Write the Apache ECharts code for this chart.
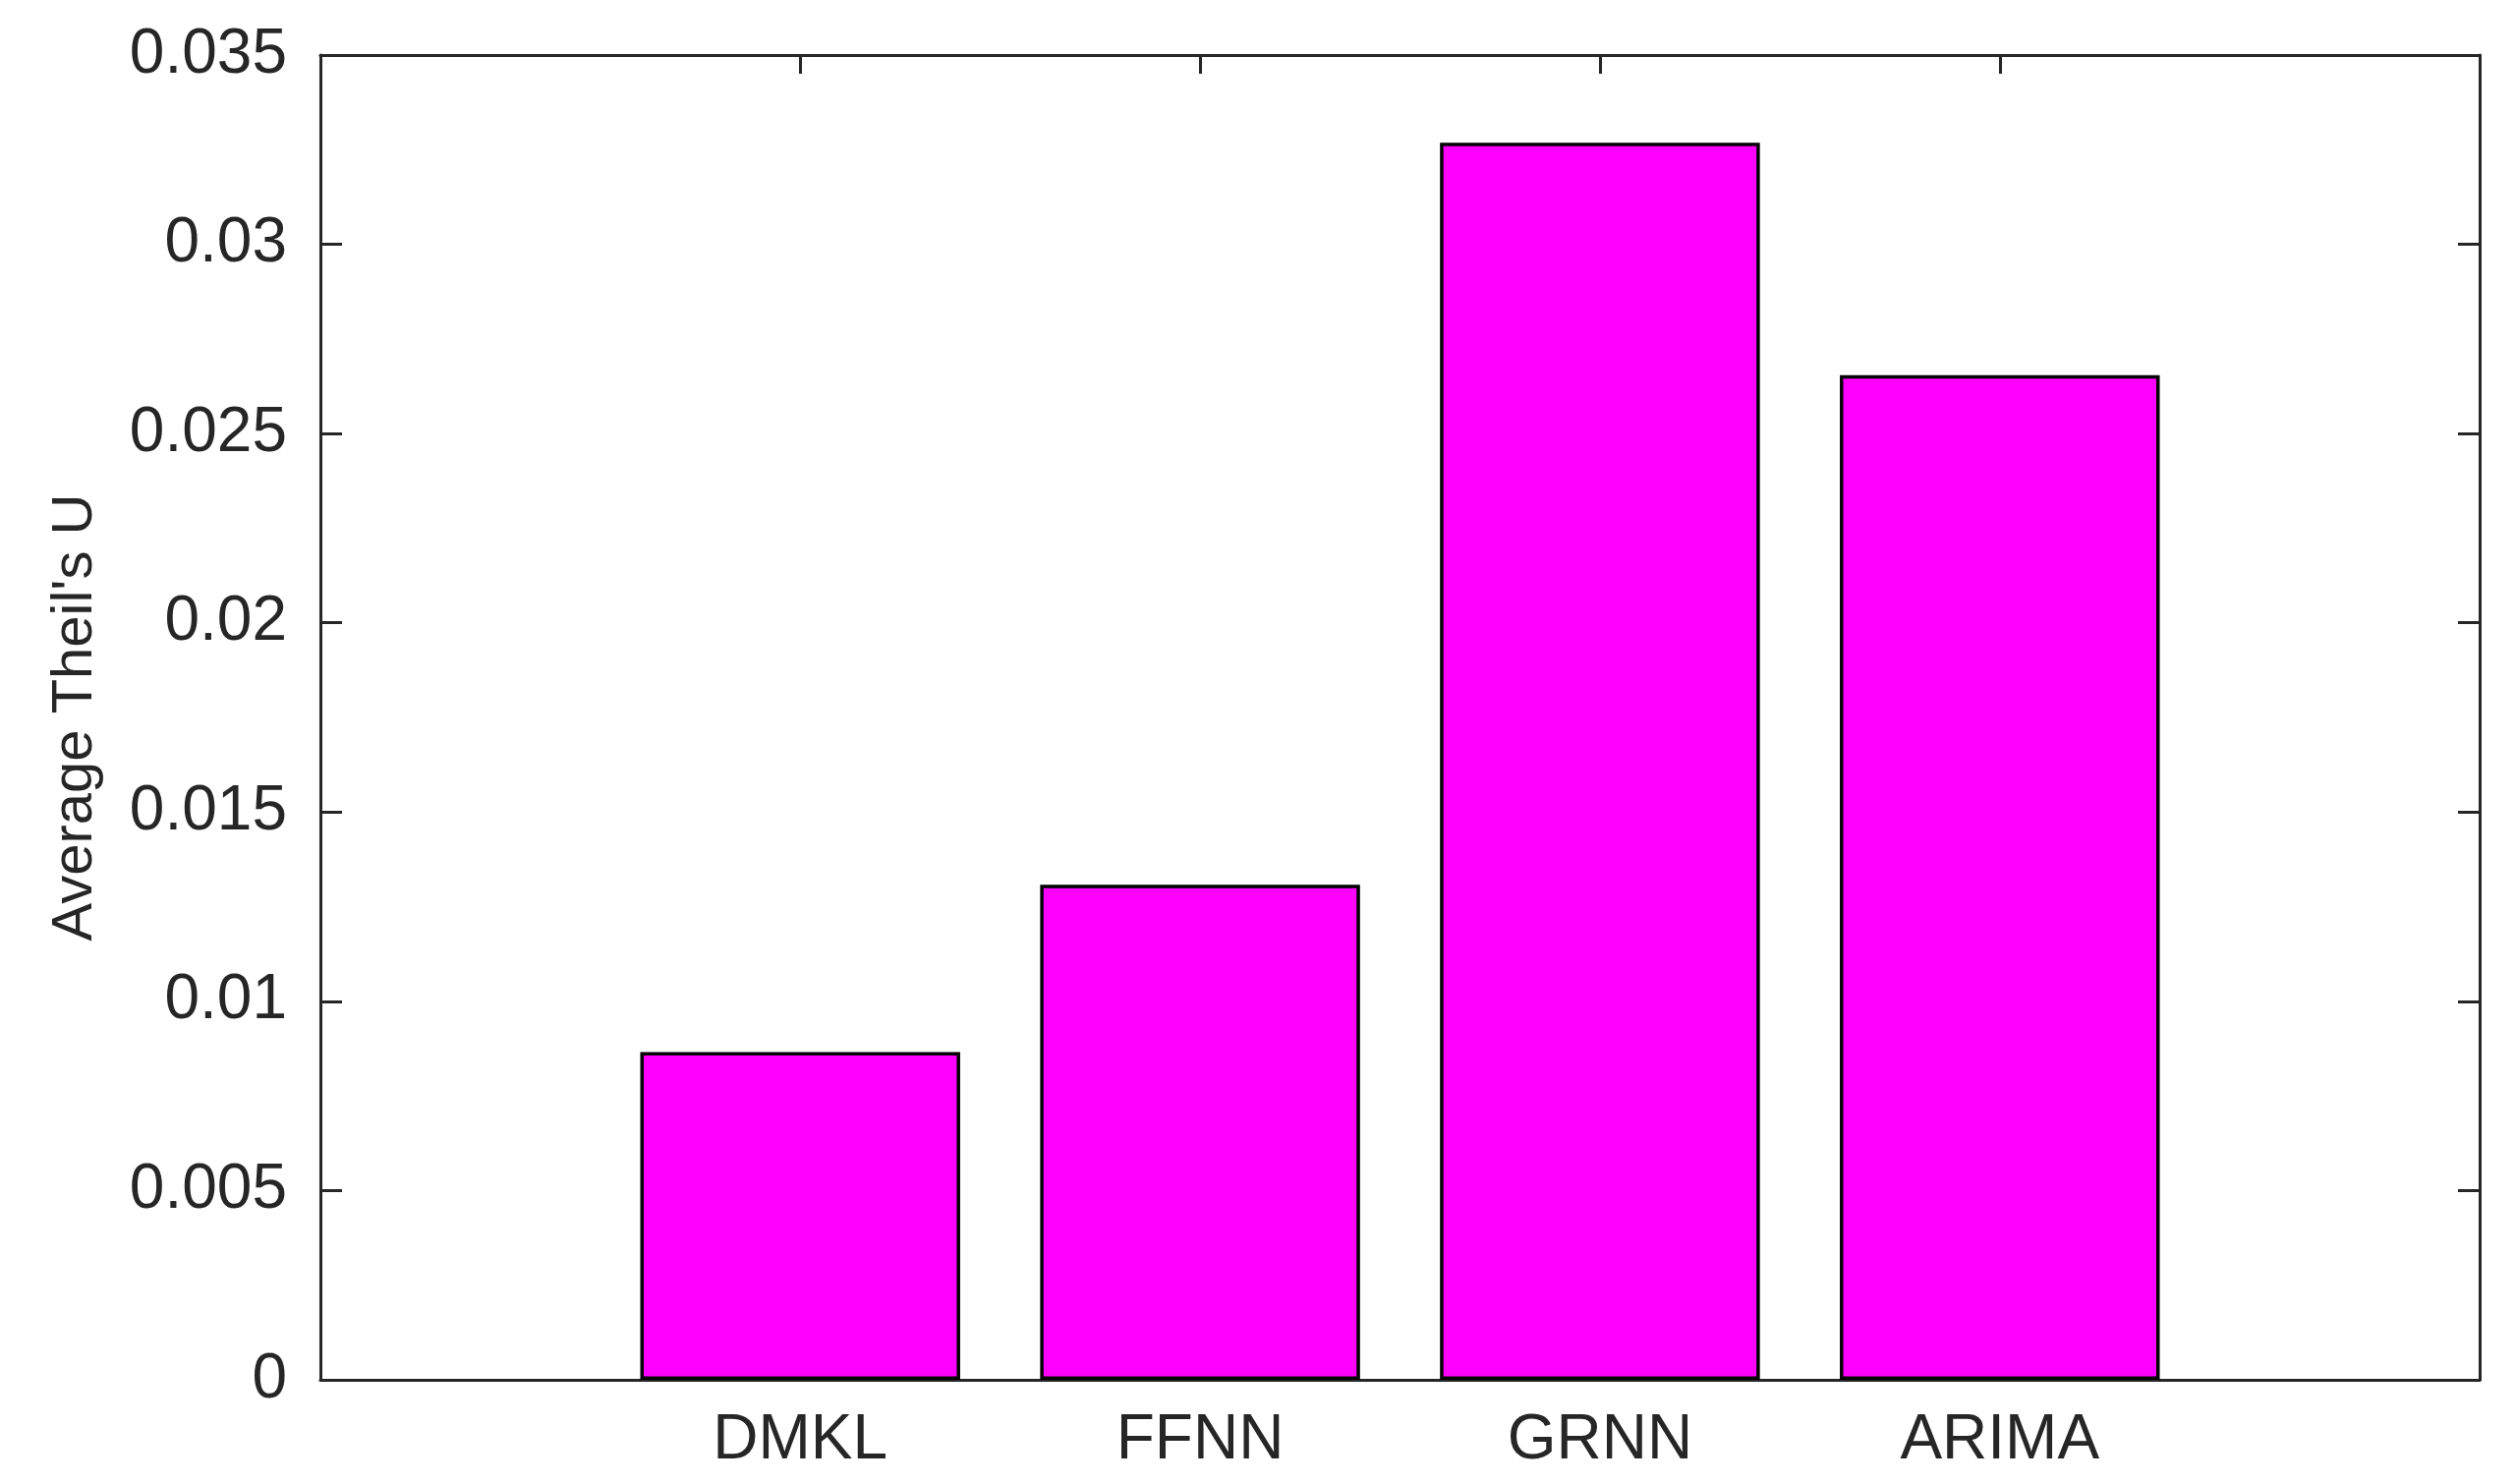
<!DOCTYPE html>
<html>
<head>
<meta charset="utf-8">
<script src="https://cdn.jsdelivr.net/npm/echarts@6/dist/echarts.min.js"></script>
<style>
html,body{margin:0;padding:0;background:#fff;}
#chart{width:2559px;height:1510px;}
</style>
</head>
<body>
<div id="chart"></div>
<script>
const categories = ['DMKL', 'FFNN', 'GRNN', 'ARIMA'];
const categoryPositions = [1, 2, 3, 4];
const values = [0.00866, 0.01308, 0.03268, 0.02654];
const yTicks = [0, 0.005, 0.01, 0.015, 0.02, 0.025, 0.03, 0.035];
const yLabel = "Average Theil's U";

const axisColor = '#262626';
const font = "'Liberation Sans', Arial, Helvetica, sans-serif";

// pick a condensed face for the y-axis title if one is installed
function hasFont(name) {
  const c = document.createElement('canvas').getContext('2d');
  const txt = "Average Theil's U";
  c.font = "60px monospace";
  const w0 = c.measureText(txt).width;
  c.font = "60px '" + name + "', monospace";
  return Math.abs(c.measureText(txt).width - w0) > 1;
}
const narrow = hasFont('Liberation Sans Narrow');
const nameFont = narrow ? "'Liberation Sans Narrow', 'Liberation Sans', sans-serif" : font;
const nameSize = narrow ? 68 : 58;

const barData = categoryPositions.map((p, i) => [p, values[i]]);

const chart = echarts.init(document.getElementById('chart'), null, {renderer: 'canvas'});
const option = {
  backgroundColor: '#ffffff',
  animation: false,
  grid: {left: 326, right: 36, top: 56, bottom: 106, containLabel: false},
  xAxis: [
    {
      type: 'value', position: 'bottom', min: -0.2, max: 5.2,
      splitLine: {show: false},
      axisLine: {show: true, onZero: false, lineStyle: {color: axisColor, width: 3}},
      axisTick: {show: true, inside: true, length: 19, customValues: categoryPositions, lineStyle: {color: axisColor, width: 3}},
      axisLabel: {show: true, customValues: categoryPositions, margin: 30, color: axisColor, fontSize: 64, fontFamily: font,
        formatter: v => categories[categoryPositions.indexOf(Math.round(v))] || ''}
    },
    {
      type: 'value', position: 'top', min: -0.2, max: 5.2,
      splitLine: {show: false},
      axisLine: {show: true, onZero: false, lineStyle: {color: axisColor, width: 3}},
      axisTick: {show: true, inside: true, length: 19, customValues: categoryPositions, lineStyle: {color: axisColor, width: 3}},
      axisLabel: {show: false}
    }
  ],
  yAxis: [
    {
      type: 'value', position: 'left', min: yTicks[0], max: yTicks[yTicks.length - 1], interval: 0.005,
      splitLine: {show: false},
      axisLine: {show: true, onZero: false, lineStyle: {color: axisColor, width: 3}},
      axisTick: {show: true, inside: true, length: 22, lineStyle: {color: axisColor, width: 3}},
      axisLabel: {show: true, margin: 34, color: axisColor, fontSize: 64, fontFamily: font,
        formatter: v => String(parseFloat(v.toFixed(4)))},
      name: yLabel, nameLocation: 'middle', nameRotate: 90, nameGap: 220,
      nameTextStyle: {color: axisColor, fontSize: nameSize, fontFamily: nameFont}
    },
    {
      type: 'value', position: 'right', min: yTicks[0], max: yTicks[yTicks.length - 1], interval: 0.005,
      splitLine: {show: false},
      axisLine: {show: true, onZero: false, lineStyle: {color: axisColor, width: 3}},
      axisTick: {show: true, inside: true, length: 22, lineStyle: {color: axisColor, width: 3}},
      axisLabel: {show: false}
    }
  ],
  series: [{
    type: 'bar',
    xAxisIndex: 0, yAxisIndex: 0,
    data: barData,
    barWidth: '80%',
    itemStyle: {color: '#ff00ff', borderColor: '#000000', borderWidth: 3.5}
  }]
};
chart.setOption(option);
</script>
</body>
</html>
